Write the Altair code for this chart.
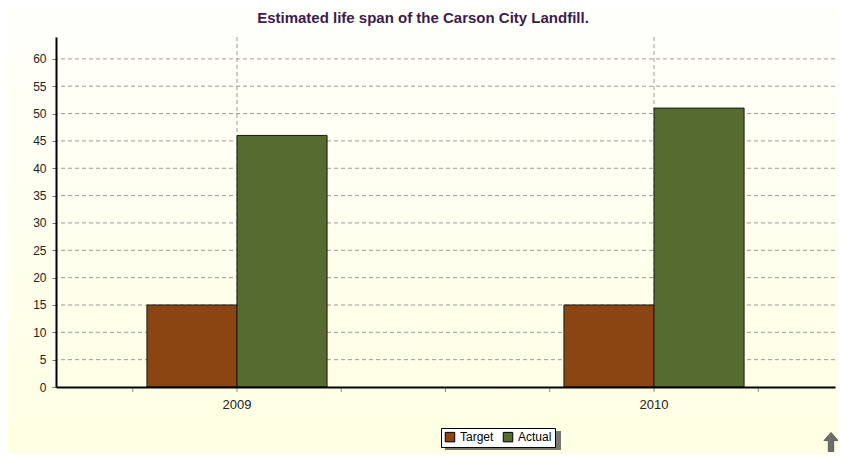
import altair as alt
import pandas as pd

title_text = "Estimated life span of the Carson City Landfill."
years = [2009, 2010]
series = ["Target", "Actual"]
target = [15, 15]
actual = [46, 51]
colors = ["#8B4513", "#556B2F"]
y_ticks = list(range(0, 61, 5))
x_ticks = [2008.75, 2009, 2009.25, 2009.5, 2009.75, 2010, 2010.25]

rows = []
for i, yr in enumerate(years):
    rows.append({"year": yr, "series": "Target", "value": target[i]})
    rows.append({"year": yr, "series": "Actual", "value": actual[i]})
df = pd.DataFrame(rows)

xscale = alt.Scale(domain=[2008.566, 2010.434], nice=False, zero=False)
yscale = alt.Scale(domain=[0, 64], nice=False)

xaxis = alt.Axis(ticks=False, labels=False, grid=False, title=None,
                 domainColor="#000", domainWidth=2, zindex=1)
yaxis = alt.Axis(values=y_ticks, grid=False, title=None, labelOverlap=False,
                 domainColor="#000", domainWidth=2, tickColor="#777", tickSize=4,
                 labelFontSize=12, labelColor="#222", labelFont="Liberation Sans",
                 labelPadding=6, zindex=1)

one = pd.DataFrame({"a": [0]})

bg = alt.Chart(one).mark_rect(
    color=alt.LinearGradient(gradient="linear", x1=0, y1=0, x2=0, y2=1,
                             stops=[alt.GradientStop(color="#FFFFFB", offset=0),
                                    alt.GradientStop(color="#FFFFE3", offset=1)])
).encode(x=alt.value(-48), x2=alt.value(782), y=alt.value(-29), y2=alt.value(417))

title = alt.Chart(one).mark_text(
    text=title_text, fontSize=15, fontWeight="bold", color="#3D1A4F",
    font="Liberation Sans", align="center", baseline="middle"
).encode(x=alt.value(367), y=alt.value(-19))

grid_v = alt.Chart(pd.DataFrame({"year": years})).mark_rule(
    strokeDash=[4, 3], color="#9a9a9a", strokeWidth=1
).encode(x=alt.X("year:Q", scale=xscale, axis=xaxis))

grid_h = alt.Chart(pd.DataFrame({"v": y_ticks[1:]})).mark_rule(
    strokeDash=[4, 3], color="#9a9a9a", strokeWidth=1
).encode(y=alt.Y("v:Q", scale=yscale, axis=yaxis))

xtick_marks = alt.Chart(pd.DataFrame({"t": x_ticks})).mark_rule(
    color="#888", strokeWidth=1
).encode(x=alt.X("t:Q", scale=xscale, axis=xaxis), y=alt.value(351), y2=alt.value(355))

xlabels = alt.Chart(pd.DataFrame({"year": years})).mark_text(
    fontSize=13, font="Liberation Sans", color="#222", baseline="middle"
).encode(x=alt.X("year:Q", scale=xscale, axis=xaxis), y=alt.value(368),
         text=alt.Text("year:N"))

shadow = alt.Chart(one).mark_rect(color="#555", opacity=0.8).encode(
    x=alt.value(389), x2=alt.value(505), y=alt.value(394), y2=alt.value(413)
)

bars = alt.Chart(df).transform_calculate(
    x0="datum.series == 'Target' ? datum.year - 0.216 : datum.year",
    x1="datum.series == 'Target' ? datum.year : datum.year + 0.216",
).mark_rect(stroke="#1a1a1a", strokeWidth=1).encode(
    x=alt.X("x0:Q", scale=xscale, axis=xaxis),
    x2="x1:Q",
    y=alt.Y("value:Q", scale=yscale, axis=yaxis),
    y2=alt.datum(0),
    color=alt.Color("series:N", scale=alt.Scale(domain=series, range=colors),
                    legend=alt.Legend(orient="none", legendX=385, legendY=391,
                                      direction="horizontal", title=None,
                                      fillColor="white", strokeColor="#000",
                                      padding=3, symbolType="square", symbolSize=90,
                                      symbolStrokeColor="#000", symbolStrokeWidth=1,
                                      labelFontSize=12, labelFont="Liberation Sans",
                                      labelColor="#000", columnPadding=7,
                                      cornerRadius=0, symbolOpacity=1)),
)

arrow = alt.Chart(one).mark_point(
    shape="M0,-1.35L1,-0.2L0.38,-0.2L0.38,1.35L-0.38,1.35L-0.38,-0.2L-1,-0.2Z",
    filled=True, color="#6e6e6e", size=200, opacity=1, stroke="#4a4a4a", strokeWidth=0.8
).encode(x=alt.value(775), y=alt.value(405))

chart = alt.layer(bg, title, grid_v, grid_h, xtick_marks, xlabels, shadow, bars, arrow).properties(
    width=779, height=350,
    background="#FFFFFB",
    padding={"left": 48, "top": 29, "right": 3, "bottom": 67},
    autosize=alt.AutoSizeParams(type="none"),
).configure_view(stroke=None)

chart.save("out.html", embed_options={"renderer": "svg", "actions": False})
